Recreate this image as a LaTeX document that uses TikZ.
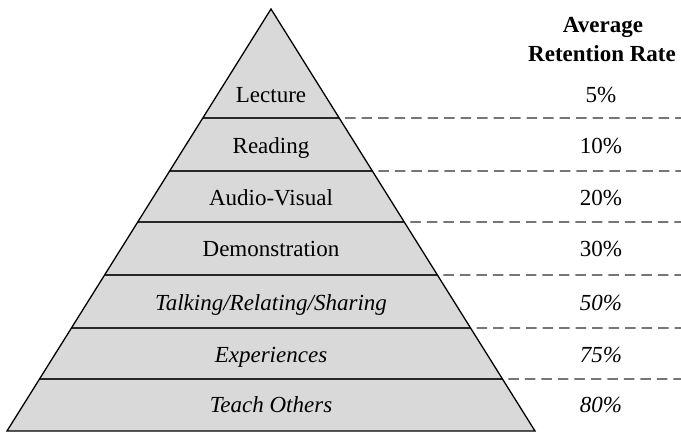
\documentclass[tikz,border=0pt]{standalone}
\usepackage{fontspec}
\setmainfont{Liberation Serif}
\usetikzlibrary{calc}
\definecolor{bandfill}{RGB}{217,217,217}
\definecolor{rulegray}{RGB}{40,40,40}
\definecolor{leadgray}{RGB}{45,45,45}
\begin{document}
\begin{tikzpicture}[x=1pt,y=-1pt,
  level/.style={anchor=base, inner sep=0pt, font=\fontsize{23}{27}\selectfont},
  rate/.style={anchor=base, inner sep=0pt, font=\fontsize{23}{27}\selectfont},
  head/.style={anchor=base, inner sep=0pt, font=\fontsize{23}{27}\selectfont\bfseries},
  bandline/.style={draw=rulegray, line width=1.2pt},
  leader/.style={draw=leadgray, line width=1.25pt, dash pattern=on 10.5pt off 6pt},
  outline/.style={draw=black, line width=1.3pt, line join=miter}]
\useasboundingbox (0,0) rectangle (681,433);

% pyramid corners
\coordinate (apex) at (271,9);
\coordinate (bl) at (7,431);
\coordinate (br) at (535,431);

\fill[bandfill] (apex) -- (br) -- (bl) -- cycle;

% band dividers and dashed leaders to the rate column
\foreach \i/\y in {1/118,2/171,3/222,4/275,5/328,6/379}{
  \pgfmathsetmacro\t{(\y-9)/422}
  \coordinate (L\i) at ($(apex)!\t!(bl)$);
  \coordinate (R\i) at ($(apex)!\t!(br)$);
  \coordinate (E\i) at (681,\y);
  \draw[bandline] (L\i) -- (R\i);
  \draw[leader] ([xshift=6pt]R\i) -- (E\i);
}

\draw[outline] (apex) -- (br) -- (bl) -- cycle;

% learning methods
\node[level] (lecture) at (271,103) {Lecture};
\node[level] (reading) at (271,154) {Reading};
\node[level] (audio)   at (271,206) {Audio-Visual};
\node[level] (demo)    at (271,257) {Demonstration};
\node[level] (talk)    at (271,310) {\itshape Talking/Relating/Sharing};
\node[level] (exper)   at (271,362) {\itshape Experiences};
\node[level] (teach)   at (271,412) {\itshape Teach Others};

% column header
\node[head] (avg) at (603,33) {Average};
\node[head] (ret) at (602,62) {Retention Rate};

% retention rates
\node[rate] (r1) at (601,103) {5\%};
\node[rate] (r2) at (601,154) {10\%};
\node[rate] (r3) at (601,206) {20\%};
\node[rate] (r4) at (601,257) {30\%};
\node[rate] (r5) at (601,310) {\itshape 50\%};
\node[rate] (r6) at (601,362) {\itshape 75\%};
\node[rate] (r7) at (601,412) {\itshape 80\%};
\end{tikzpicture}
\end{document}
